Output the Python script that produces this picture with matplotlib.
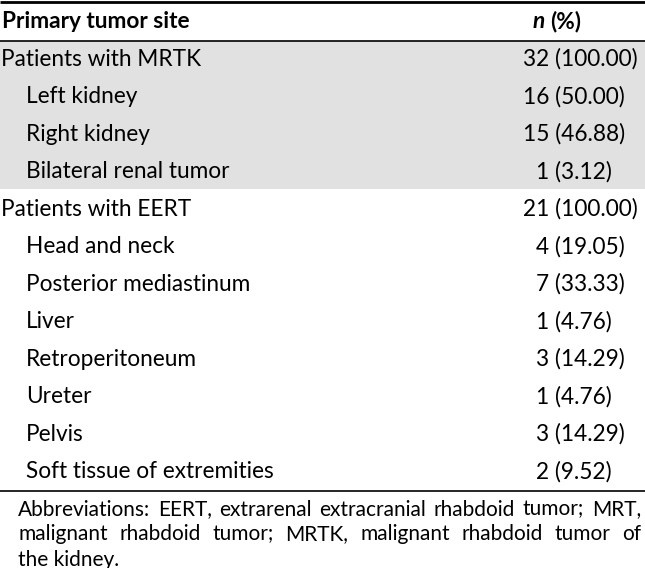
import matplotlib
matplotlib.use("Agg")
import matplotlib.pyplot as plt

W, H = 645, 568
FONT = "Lato"

header = ["Primary tumor site", "n", "(%)"]
sites = ["Patients with MRTK", "Left kidney", "Right kidney", "Bilateral renal tumor",
         "Patients with EERT", "Head and neck", "Posterior mediastinum", "Liver",
         "Retroperitoneum", "Ureter", "Pelvis", "Soft tissue of extremities"]
indent = [0, 1, 1, 1, 0, 1, 1, 1, 1, 1, 1, 1]
counts = [32, 16, 15, 1, 21, 4, 7, 1, 3, 1, 3, 2]
pcts = ["100.00", "50.00", "46.88", "3.12", "100.00", "19.05", "33.33", "4.76",
        "14.29", "4.76", "14.29", "9.52"]
shaded = [True, True, True, True, False, False, False, False, False, False, False, False]
footnote = ["Abbreviations: EERT, extrarenal extracranial rhabdoid tumor; MRT,",
            "malignant rhabdoid tumor; MRTK, malignant rhabdoid tumor of",
            "the kidney."]

fig = plt.figure(figsize=(W / 100, H / 100), dpi=100)
ax = fig.add_axes([0, 0, 1, 1])
ax.set_xlim(0, W)
ax.set_ylim(H, 0)
ax.axis("off")
fig.canvas.draw()
r = fig.canvas.get_renderer()


def width(s, **kw):
    t = ax.text(0, 0, s, **kw)
    w = t.get_window_extent(r).width
    t.remove()
    return w


fs = 16.3
row_h = 37.5
top_body = 40.5
paren_x = 555

# header
ax.plot([0, W], [1.5, 1.5], color="black", lw=2.0, solid_capstyle="butt")
hk = dict(fontsize=fs, fontweight="bold", family=FONT, va="center")
ax.text(2, 21, header[0], ha="left", **hk)
ax.text(581, 21, header[2], ha="right", **hk)
wp = width(header[2], **hk)
wsp = width("n " + header[2], **hk) - wp - width("n", **hk)
ax.text(581 - wp - wsp, 21, header[1], ha="right", style="italic", **hk)

# shading
nshade = sum(shaded)
ax.add_patch(plt.Rectangle((0, top_body), W, nshade * row_h - 1.5, color="#e1e1e1", lw=0, zorder=0))
ax.plot([0, W], [top_body, top_body], color="black", lw=1.2, solid_capstyle="butt")

tk = dict(fontsize=fs, family=FONT, va="center")
for i, (s, ind, c, p) in enumerate(zip(sites, indent, counts, pcts)):
    y = top_body + (i + 0.5) * row_h
    ax.text(1 + 25 * ind, y, s, ha="left", **tk)
    full = f"{c} ({p})"
    off = width(full, **tk) - width(f"({p})", **tk)
    ax.text(paren_x - off, y, full, ha="left", **tk)

bottom = top_body + len(sites) * row_h
ax.plot([0, W], [bottom, bottom], color="black", lw=1.2, solid_capstyle="butt")

# footnote, justified
ffs = 15
fk = dict(fontsize=ffs, family=FONT, va="center")
x0, x1 = 18, 641
for li, line in enumerate(footnote):
    y = bottom + 19 + li * 25
    words = line.split(" ")
    if li < len(footnote) - 1:
        widths = [width(w, **fk) for w in words]
        gap = (x1 - x0 - sum(widths)) / (len(words) - 1)
        x = x0
        for w, wd in zip(words, widths):
            ax.text(x, y, w, ha="left", **fk)
            x += wd + gap
    else:
        ax.text(x0, y, line, ha="left", **fk)

fig.savefig("out.png", dpi=100)
